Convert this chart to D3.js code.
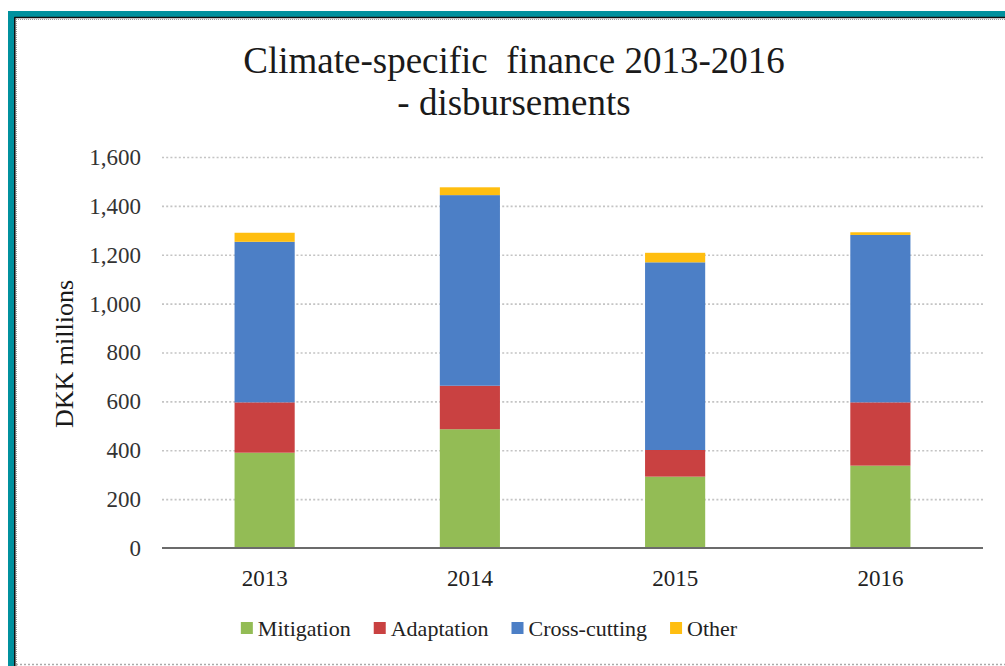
<!DOCTYPE html>
<html>
<head>
<meta charset="utf-8">
<script src="https://cdn.jsdelivr.net/npm/d3@7/dist/d3.min.js"></script>
<style>
  html, body { margin: 0; padding: 0; background: #fff; }
  svg { display: block; }
  svg text { font-family: "Liberation Serif", "Tinos", "Times New Roman", "DejaVu Serif", serif !important; }
</style>
</head>
<body>
<svg id="chart" width="1005" height="666"></svg>
<script>
const years = ["2013", "2014", "2015", "2016"];
const seriesNames = ["Mitigation", "Adaptation", "Cross-cutting", "Other"];
const mitigation = [390, 486, 292, 337];
const adaptation = [206, 178, 109, 259];
const crossCutting = [657, 780, 768, 685];
const other = [37, 32, 39, 11];
const yTicks = [0, 200, 400, 600, 800, 1000, 1200, 1400, 1600];
const colors = ["#93BC55", "#C94141", "#4C7FC6", "#FFBE10"];
const titleLines = ["Climate-specific  finance 2013-2016", "- disbursements"];
const yLabel = "DKK millions";

const svg = d3.select("#chart");
const W = 1005, H = 666;
const FONT = "'Liberation Serif', Tinos, 'Times New Roman', 'DejaVu Serif', serif";

// frame
svg.append("rect").attr("x", 0).attr("y", 0).attr("width", W).attr("height", H).attr("fill", "#fff");
svg.append("rect").attr("x", 8).attr("y", 11).attr("width", W - 8).attr("height", 6).attr("fill", "#00919E");
svg.append("rect").attr("x", 8).attr("y", 11).attr("width", 6).attr("height", H - 11).attr("fill", "#00919E");
svg.append("line").attr("x1", 14.5).attr("x2", W).attr("y1", 17.5).attr("y2", 17.5).attr("stroke", "#111").attr("stroke-width", 1.5);
svg.append("line").attr("x1", 14.8).attr("x2", 14.8).attr("y1", 17).attr("y2", H).attr("stroke", "#111").attr("stroke-width", 1.6);
svg.append("line").attr("x1", 16).attr("x2", W).attr("y1", 19.5).attr("y2", 19.5).attr("stroke", "#999").attr("stroke-width", 1).attr("stroke-dasharray", "1,1");
svg.append("line").attr("x1", 16.5).attr("x2", 16.5).attr("y1", 19).attr("y2", H).attr("stroke", "#999").attr("stroke-width", 1).attr("stroke-dasharray", "1,1");
svg.append("line").attr("x1", 16).attr("x2", W).attr("y1", 664.5).attr("y2", 664.5).attr("stroke", "#aaa").attr("stroke-width", 1.5).attr("stroke-dasharray", "2,2");

const plotLeft = 162, plotRight = 983, plotTop = 157, plotBottom = 548;

const x = d3.scaleBand().domain(years).range([plotLeft, plotRight]).paddingInner(0.707).paddingOuter(0.3535);
const y = d3.scaleLinear().domain([0, 1600]).range([plotBottom, plotTop]);

// gridlines
svg.append("g").selectAll("line").data(yTicks.filter(d => d > 0)).join("line")
  .attr("x1", plotLeft).attr("x2", plotRight)
  .attr("y1", d => y(d) + 0.5).attr("y2", d => y(d) + 0.5)
  .attr("stroke", "#C4C4C4").attr("stroke-width", 1.6).attr("stroke-dasharray", "2,2.2");

// stacked data
const rows = years.map((yr, i) => ({
  year: yr,
  "Mitigation": mitigation[i],
  "Adaptation": adaptation[i],
  "Cross-cutting": crossCutting[i],
  "Other": other[i]
}));
const stack = d3.stack().keys(seriesNames)(rows);

svg.append("g").selectAll("g").data(stack).join("g")
  .attr("fill", (d, i) => colors[i])
  .selectAll("rect").data(d => d).join("rect")
  .attr("x", d => x(d.data.year))
  .attr("width", x.bandwidth())
  .attr("y", d => y(d[1]))
  .attr("height", d => y(d[0]) - y(d[1]));

// y axis
const yAxis = d3.axisLeft(y).tickValues(yTicks).tickSize(0).tickPadding(21).tickFormat(d3.format(","));
const gy = svg.append("g").attr("transform", `translate(${plotLeft},0)`).call(yAxis);
gy.attr("font-family", FONT);
gy.select(".domain").remove();
gy.selectAll("text").attr("font-size", 23).attr("fill", "#333").style("font-family", FONT);

// x axis
const xAxis = d3.axisBottom(x).tickSize(0).tickPadding(22);
const gx = svg.append("g").attr("transform", `translate(0,${plotBottom})`).call(xAxis);
gx.attr("font-family", FONT);
gx.select(".domain").attr("d", `M${plotLeft},0H${plotRight}`).attr("stroke", "#6b6b6b").attr("stroke-width", 2.2);
gx.selectAll("text").attr("font-size", 23).attr("fill", "#222").style("font-family", FONT);

// title
svg.append("text").attr("x", 514).attr("y", 73).attr("text-anchor", "middle").style("font-family", FONT)
  .attr("font-size", 37).attr("fill", "#1a1a1a").style("white-space", "pre").text(titleLines[0]);
svg.append("text").attr("x", 514).attr("y", 115).attr("text-anchor", "middle").style("font-family", FONT)
  .attr("font-size", 37).attr("fill", "#1a1a1a").text(titleLines[1]);

// y label
svg.append("text").attr("transform", "translate(73,354) rotate(-90)").attr("text-anchor", "middle").style("font-family", FONT)
  .attr("font-size", 26).attr("fill", "#1a1a1a").text(yLabel);

// legend
const legend = svg.append("g");
const items = legend.selectAll("g").data(seriesNames).join("g");
items.append("rect").attr("width", 12).attr("height", 12).attr("y", 622).attr("fill", (d, i) => colors[i]);
items.append("text").attr("x", 17).attr("y", 636).attr("font-size", 22).attr("fill", "#222").style("font-family", FONT).text(d => d);
const widths = [];
items.each(function () {
  const w = d3.select(this).select("text").node().getComputedTextLength();
  widths.push(17 + w);
});
const gap = 23;
const total = d3.sum(widths) + gap * (widths.length - 1);
let start = 489 - total / 2;
items.attr("transform", (d, i) => {
  const tx = start;
  start += widths[i] + gap;
  return `translate(${tx},0)`;
});
</script>
</body>
</html>
